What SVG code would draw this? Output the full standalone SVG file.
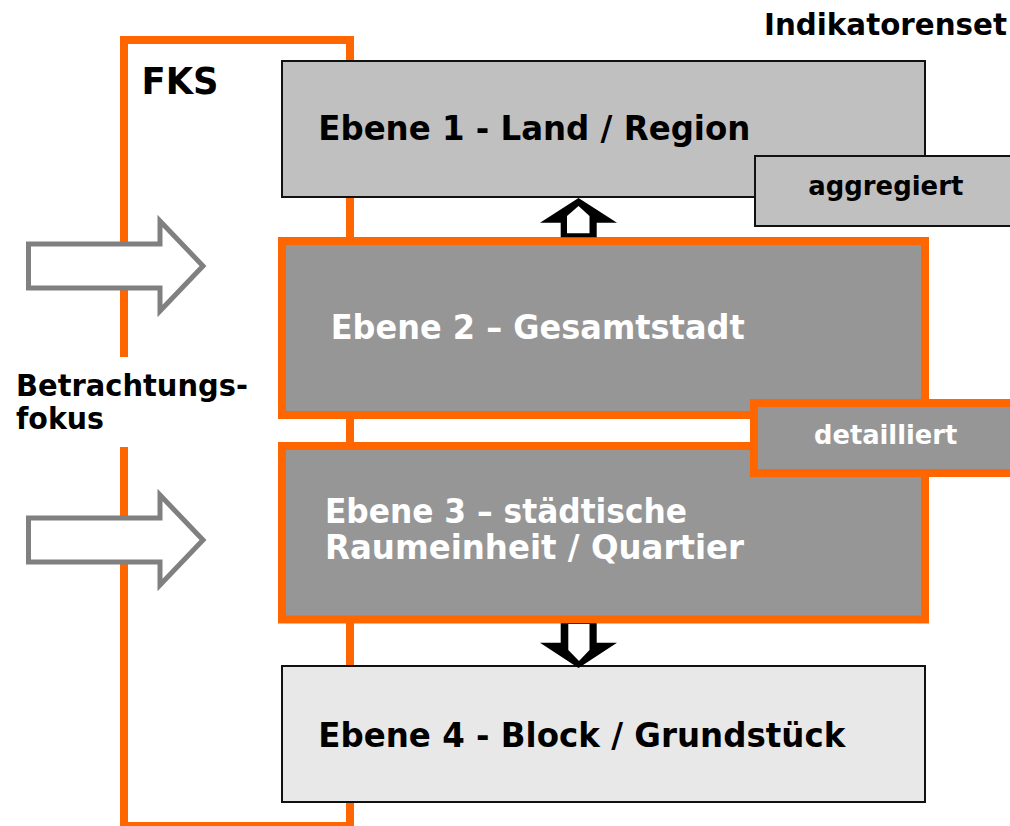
<svg xmlns="http://www.w3.org/2000/svg" width="1010" height="826" viewBox="0 0 1010 826">
<style>
text { font-family: "DejaVu Sans", Verdana, sans-serif; font-weight: bold; }
.dark { fill: #000; }
.light { fill: #fff; }
.big { font-size: 33.5px; }
.mid { font-size: 29.5px; }
.small { font-size: 26px; }
.frame { fill: none; stroke: #ff6600; stroke-width: 8; stroke-linejoin: miter; }
.boxA { fill: #c0c0c0; stroke: #111; stroke-width: 2; }
.boxB { fill: #969696; stroke: #ff6600; stroke-width: 8; }
.boxC { fill: #e8e8e8; stroke: #111; stroke-width: 2; }
.focus { fill: #fff; stroke: #808080; stroke-width: 5; stroke-linejoin: miter; }
</style>
<rect width="1010" height="826" fill="#fff"/>
<g id="fks-frame">
  <path class="frame" d="M124,357 V40 H350 V826 H124 V447"/>
  <text class="dark" x="141.5" y="94.3" font-size="37.5" textLength="77" lengthAdjust="spacingAndGlyphs">FKS</text>
</g>
<g id="indikatorenset">
  <text class="dark mid" x="1007" y="35" text-anchor="end" textLength="243" lengthAdjust="spacingAndGlyphs">Indikatorenset</text>
</g>
<g id="betrachtungsfokus">
  <text class="dark mid" x="16" y="396" textLength="232" lengthAdjust="spacingAndGlyphs">Betrachtungs-</text>
  <text class="dark mid" x="16" y="429" textLength="88" lengthAdjust="spacingAndGlyphs">fokus</text>
</g>
<g id="ebene1">
  <rect class="boxA" x="282" y="61" width="643" height="136"/>
  <text class="dark big" x="318.3" y="140" textLength="432" lengthAdjust="spacingAndGlyphs">Ebene 1 - Land / Region</text>
</g>
<g id="aggregiert">
  <rect class="boxA" x="755" y="156" width="262" height="70"/>
  <text class="dark small" x="808.3" y="195" textLength="155" lengthAdjust="spacingAndGlyphs">aggregiert</text>
</g>
<g id="ebene2">
  <rect class="boxB" x="282" y="241" width="643" height="174"/>
  <text class="light big" x="330.7" y="339" textLength="414" lengthAdjust="spacingAndGlyphs">Ebene 2 – Gesamtstadt</text>
</g>
<g id="ebene3">
  <rect class="boxB" x="282" y="446" width="643" height="173.5"/>
  <text class="light big" x="325" y="523" textLength="362" lengthAdjust="spacingAndGlyphs">Ebene 3 – städtische</text>
  <text class="light big" x="325" y="559" textLength="419" lengthAdjust="spacingAndGlyphs">Raumeinheit / Quartier</text>
</g>
<g id="detailliert">
  <rect class="boxB" x="754" y="403" width="270" height="70"/>
  <text class="light small" x="814" y="444" textLength="143.3" lengthAdjust="spacingAndGlyphs">detailliert</text>
</g>
<g id="ebene4">
  <rect class="boxC" x="282" y="666" width="643" height="136"/>
  <text class="dark big" x="318.3" y="747" textLength="527" lengthAdjust="spacingAndGlyphs">Ebene 4 - Block / Grundstück</text>
</g>
<g id="connectors">
  <g id="arrow-up">
    <polygon fill="#000" points="578.5,198 540,222.7 560.7,222.7 560.7,237.3 596.7,237.3 596.7,222.7 617,222.7"/>
    <polygon fill="#fff" points="578.5,206 567,216 567,233.3 589.5,233.3 589.5,216"/>
  </g>
  <g id="arrow-down">
    <polygon fill="#000" points="560.7,623.3 596.7,623.3 596.7,642.7 617,642.7 578.5,668 540,642.7 560.7,642.7"/>
    <polygon fill="#fff" points="568.3,624 589.5,624 589.5,650 579,661 568.3,650"/>
  </g>
  <g id="focus-arrow-1">
    <polygon class="focus" points="28.5,244 160,244 160,221 203,266 160,311 160,288 28.5,288"/>
  </g>
  <g id="focus-arrow-2">
    <polygon class="focus" points="28.5,518 160,518 160,495 203,540 160,585 160,562 28.5,562"/>
  </g>
</g>
</svg>
